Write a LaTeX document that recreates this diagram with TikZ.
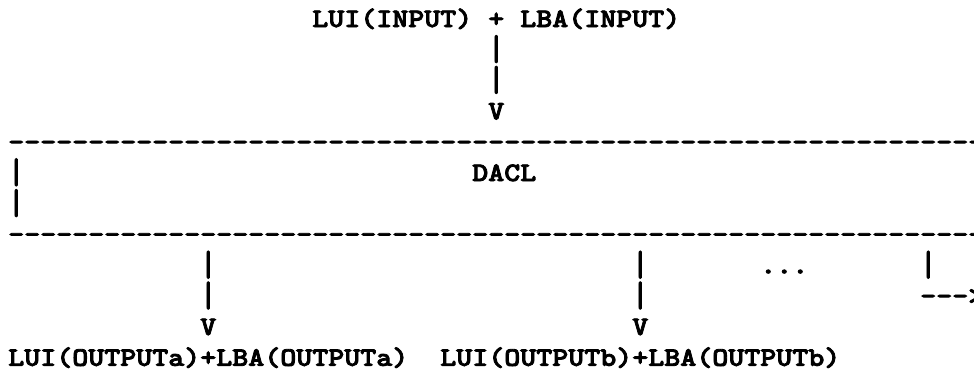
\documentclass[tikz,border=0pt]{standalone}
\usepackage{fontspec}
\usepackage{graphicx}
\newfontfamily\asciifont{lmmonolt10-bold.otf}[FakeStretch=1.143,FakeBold=3]
\newcommand{\tallbar}{\raisebox{-0.08em}{\scalebox{1}[1.33]{|}}}
\tikzset{
  ascii/.style={font=\asciifont\fontsize{20}{24}\selectfont, inner sep=0pt, anchor=base west},
}
\begin{document}
\begin{tikzpicture}[x=12pt,y=-23.1pt]
        % picture frame, one cell is 12pt wide and 23.1pt high
        \useasboundingbox (-6pt,20.25pt) rectangle (724.5pt,-258.75pt);
        \clip (-6pt,20.25pt) rectangle (724.5pt,-258.75pt);

        % input line
        \node[ascii] (inlui) at (19,0) {LUI(INPUT)};
        \node[ascii] (inplus) at (30,0) {+};
        \node[ascii] (inlba) at (32,0) {LBA(INPUT)};
        \node[ascii] (inbar1) at (30,1) {\tallbar};
        \node[ascii] (inbar2) at (30,2) {\tallbar};
        \node[ascii] (inv) at (30,3) {V};

        % DACL box
        \foreach \c in {0,...,62} {
            \node[ascii] (boxtop-\c) at (\c,4) {-};
            \node[ascii] (boxbot-\c) at (\c,7) {-};
        }
        \node[ascii] (wallla) at (0,5) {\tallbar};
        \node[ascii] (walllb) at (0,6) {\tallbar};
        \node[ascii] (wallra) at (60,5) {\tallbar};
        \node[ascii] (wallrb) at (60,6) {\tallbar};
        \node[ascii] (dacl) at (29,5) {DACL};

        % outputs
        \node[ascii] (abar1) at (12,8) {\tallbar};
        \node[ascii] (abar2) at (12,9) {\tallbar};
        \node[ascii] (av) at (12,10) {V};
        \node[ascii] (bbar1) at (39,8) {\tallbar};
        \node[ascii] (bbar2) at (39,9) {\tallbar};
        \node[ascii] (bv) at (39,10) {V};
        \node[ascii] (more) at (47,8) {...};
        \node[ascii] (nbar) at (57,8) {\tallbar};
        \node[ascii] (narrow) at (57,9) {-{}-{}->};
        \node[ascii] (outa) at (0,11) {LUI(OUTPUTa)+LBA(OUTPUTa)};
        \node[ascii] (outb) at (27,11) {LUI(OUTPUTb)+LBA(OUTPUTb)};
\end{tikzpicture}
\end{document}
